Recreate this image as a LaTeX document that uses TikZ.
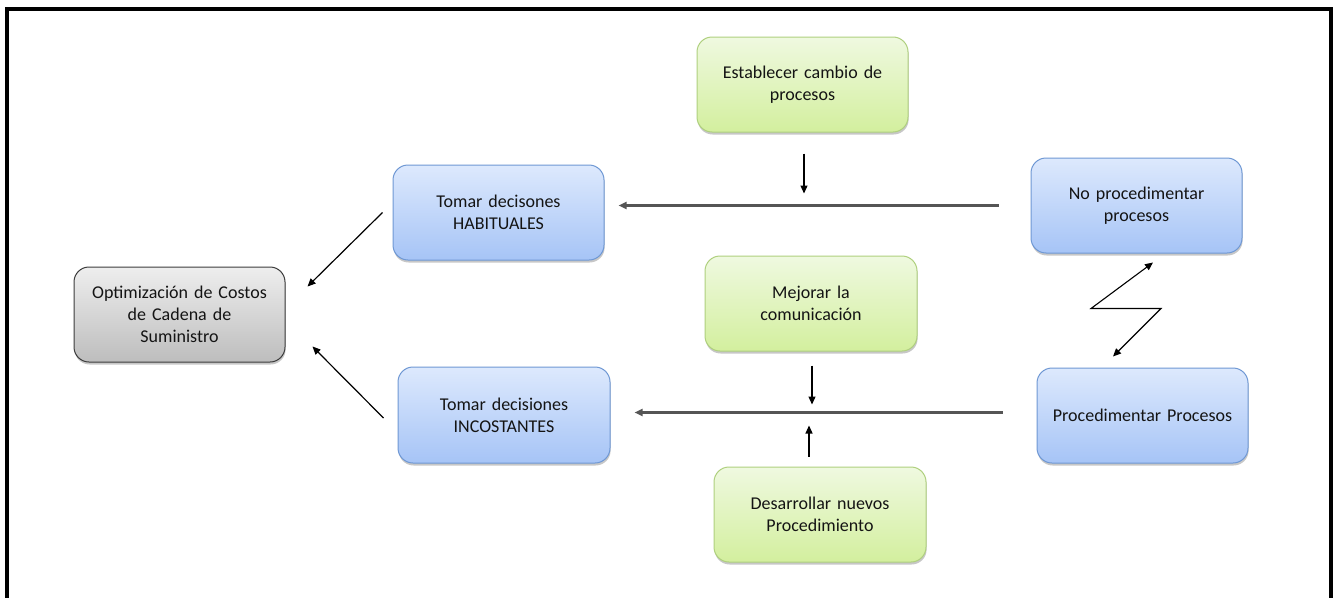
\documentclass[tikz,border=0pt]{standalone}
\usepackage{fontspec}
\setmainfont{Carlito}
\usetikzlibrary{shadows,arrows.meta,calc}
\definecolor{bluetop}{HTML}{DDE9FD}
\definecolor{bluebot}{HTML}{A6C4F6}
\definecolor{blueline}{HTML}{6F98D4}
\definecolor{greentop}{HTML}{EFF9E0}
\definecolor{greenbot}{HTML}{D3EF9E}
\definecolor{greenline}{HTML}{AFD07E}
\definecolor{graytop}{HTML}{EEEEEE}
\definecolor{graybot}{HTML}{BDBDBD}
\definecolor{grayline}{HTML}{3C3C3C}
\definecolor{txt}{HTML}{141414}
\definecolor{hline}{HTML}{555555}
\tikzset{
  box/.style={rectangle, rounded corners=15pt, minimum width=211pt, minimum height=95pt,
    align=center, text width=190pt, font=\fontsize{18pt}{22pt}\selectfont, text=txt, line width=1pt,
    drop shadow={shadow xshift=0.6pt, shadow yshift=-2.5pt, opacity=0.22, fill=black}},
  bluebox/.style={box, draw=blueline, top color=bluetop, bottom color=bluebot},
  greenbox/.style={box, draw=greenline, top color=greentop, bottom color=greenbot},
  graybox/.style={box, draw=grayline, top color=graytop, bottom color=graybot},
  arr/.style={draw=black, line width=1.2pt, -{Triangle[length=8pt,width=7pt]}},
  harr/.style={draw=hline, line width=2.2pt, -{Triangle[length=8pt,width=7pt]}},
  zig/.style={draw=black, line width=1.1pt, {Triangle[length=8pt,width=7pt]}-{Triangle[length=8pt,width=7pt]}},
}
\begin{document}
\begin{tikzpicture}[x=1pt,y=-1pt]
\useasboundingbox (0,0) rectangle (1337,597);
\fill[white] (0,0) rectangle (1337,597);
\draw[line width=3.5pt] (7,620) -- (7,9) -- (1331,9) -- (1331,620);

\node[graybox] (opt) at (179.5,314.5) {Optimización de Costos\\de Cadena de\\Suministro};
\node[bluebox] (hab) at (498.5,212.5) {Tomar decisones\\HABITUALES};
\node[bluebox, minimum width=212pt, minimum height=96pt] (inc) at (504,415) {Tomar decisiones\\INCOSTANTES};
\node[greenbox] (est) at (802.5,84.5) {Establecer cambio de\\procesos};
\node[greenbox, minimum width=212pt] (mej) at (811,303.5) {Mejorar la\\comunicación};
\node[greenbox, minimum width=212pt] (des) at (820,514.5) {Desarrollar nuevos\\Procedimiento};
\node[bluebox] (nop) at (1136.5,205.5) {No procedimentar\\procesos};
\node[bluebox] (pro) at (1142.5,415.5) {Procedimentar Procesos};

% horizontal connectors
\draw[harr] ([xshift=-32pt]nop.west) -- ([xshift=14pt]hab.east |- nop.west);
\draw[harr] ([shift={(-34pt,3pt)}]pro.west) -- ([shift={(24pt,3pt)}]inc.east |- pro.west);

% vertical connectors
\draw[arr] ([shift={(1.5pt,-21pt)}]est.south) -- ++(0,40);
\draw[arr] ([shift={(1pt,-14pt)}]mej.south) -- ++(0,39);
\draw[arr] ([shift={(-11pt,10pt)}]des.north) -- ++(0,-31);

% diagonal connectors
\draw[arr] ([xshift=-10pt]hab.west) -- ([shift={(22pt,28pt)}]opt.east);
\draw[arr] ([shift={(-14pt,-3pt)}]inc.west) -- ([shift={(27pt,-32pt)}]opt.east);

% zigzag
\draw[zig, line join=miter] ([shift={(-29.5pt,11pt)}]pro.north) -- ++(48,-48) -- ++(-70,0) -- ([shift={(16.5pt,-9pt)}]nop.south);
\end{tikzpicture}
\end{document}
